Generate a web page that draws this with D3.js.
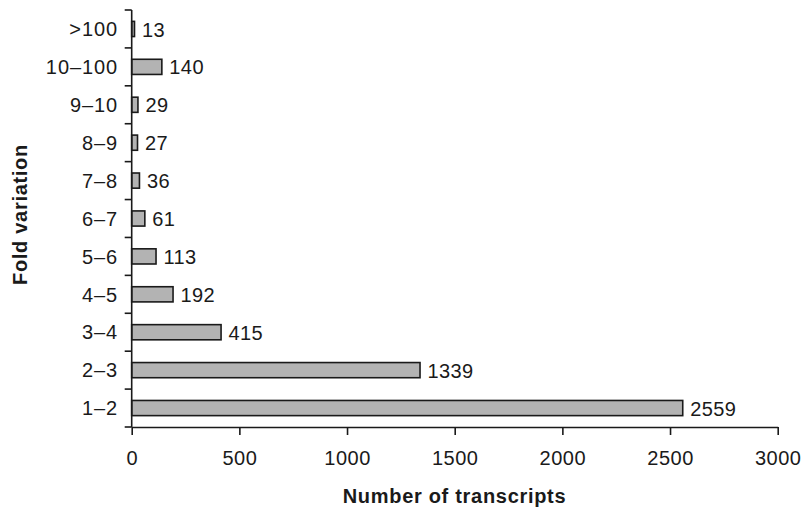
<!DOCTYPE html>
<html><head><meta charset="utf-8">
<script src="https://cdn.jsdelivr.net/npm/d3@7"></script>
<style>
html,body{margin:0;padding:0;background:#fff;}
text{font-family:"Liberation Sans",Arial,Helvetica,sans-serif;fill:#1a1a1a;}
</style></head><body>
<svg id="c" width="803" height="509"></svg>
<script>
const categories = [">100","10\u2013100","9\u201310","8\u20139","7\u20138","6\u20137","5\u20136","4\u20135","3\u20134","2\u20133","1\u20132"];
const values = [13,140,29,27,36,61,113,192,415,1339,2559];
const xTicks = [0,500,1000,1500,2000,2500,3000];

(function(){
const svg = d3.select("#c");
const pLeft = 131.7, pRight = 777.7, pTop = 10, pBottom = 427;
const x = d3.scaleLinear().domain([0,3000]).range([pLeft,pRight]);
const y = d3.scaleBand().domain(categories).range([pTop,pBottom]).paddingInner(0.6).paddingOuter(0.3);

svg.selectAll("rect.bar").data(values).join("rect")
  .attr("x", x(0))
  .attr("y", (d,i)=>y(categories[i]))
  .attr("width", d=>x(d)-x(0))
  .attr("height", y.bandwidth())
  .attr("fill","#b3b3b3").attr("stroke","#1a1a1a").attr("stroke-width",1.6);

svg.selectAll("text.val").data(values).join("text")
  .attr("x", d=>x(d)+7.5)
  .attr("y", (d,i)=>y(categories[i])+y.bandwidth()/2)
  .attr("dy","0.38em")
  .attr("font-size",20).attr("letter-spacing",0.4)
  .text(d=>d);

const xa = svg.append("g").attr("transform",`translate(0,${pBottom})`)
  .call(d3.axisBottom(x).tickValues(xTicks).tickSize(8).tickPadding(16).tickSizeOuter(0).tickFormat(d3.format("d")));
xa.select(".domain").attr("stroke","#1a1a1a").attr("stroke-width",1.6);
xa.selectAll(".tick line").attr("stroke","#1a1a1a").attr("stroke-width",1.6);
xa.selectAll(".tick text").attr("font-size",20).attr("letter-spacing",0.5).attr("font-family","Liberation Sans, Arial, sans-serif").attr("fill","#1a1a1a");

const step = (pBottom-pTop)/categories.length;
svg.append("line").attr("x1",pLeft).attr("x2",pLeft).attr("y1",pTop).attr("y2",pBottom)
  .attr("stroke","#1a1a1a").attr("stroke-width",1.6);
const bounds = d3.range(categories.length+1).map(i=>pTop+i*step);
svg.selectAll("line.yt").data(bounds).join("line")
  .attr("x1",pLeft-7).attr("x2",pLeft).attr("y1",d=>d).attr("y2",d=>d)
  .attr("stroke","#1a1a1a").attr("stroke-width",1.6);
svg.selectAll("text.cat").data(categories).join("text")
  .attr("x",118).attr("y",d=>y(d)+y.bandwidth()/2).attr("dy","0.36em")
  .attr("text-anchor","end").attr("font-size",20).attr("letter-spacing",0.9).text(d=>d);

svg.append("text").attr("x",454.5).attr("y",502.5).attr("text-anchor","middle")
  .attr("font-size",20).attr("font-weight","bold").attr("letter-spacing",0.7).text("Number of transcripts");
svg.append("text").attr("transform",`translate(26.5,214.5) rotate(-90)`)
  .attr("text-anchor","middle").attr("font-size",20).attr("font-weight","bold").attr("letter-spacing",0.7).text("Fold variation");
})();
</script></body></html>
